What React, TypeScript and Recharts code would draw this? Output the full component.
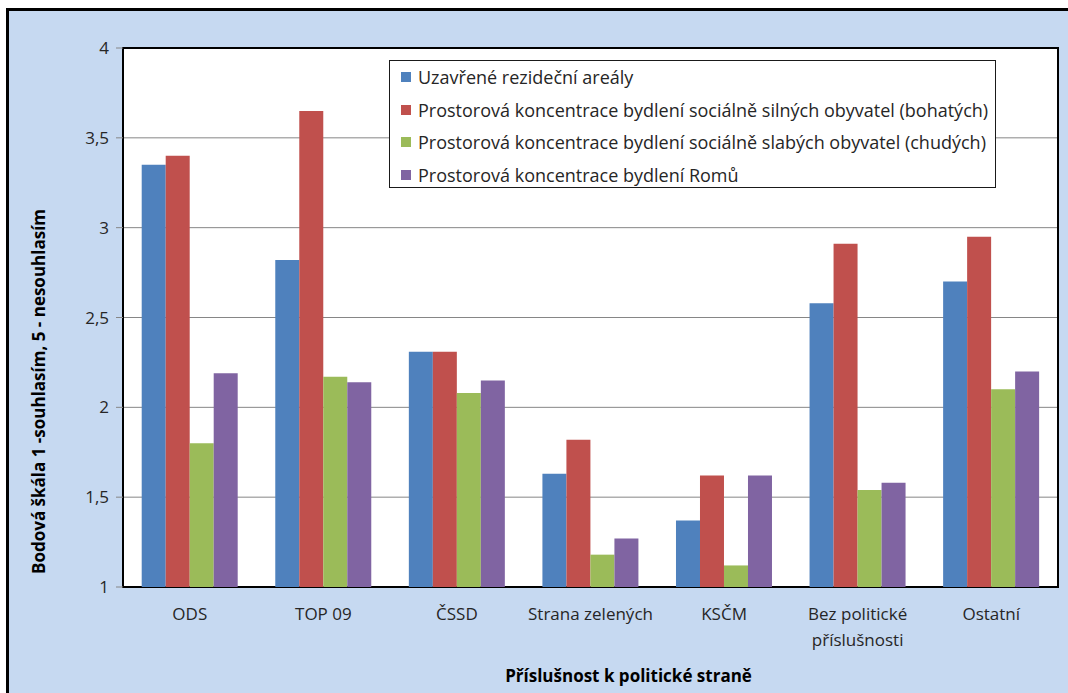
import { BarChart, Bar, XAxis, YAxis, CartesianGrid, Legend, ReferenceArea, Label } from "recharts";

const parties = ["ODS", "TOP 09", "ČSSD", "Strana zelených", "KSČM", "Bez politické\npříslušnosti", "Ostatní"];
const gated = [3.35, 2.82, 2.31, 1.63, 1.37, 2.58, 2.7];
const rich = [3.4, 3.65, 2.31, 1.82, 1.62, 2.91, 2.95];
const poor = [1.8, 2.17, 2.08, 1.18, 1.12, 1.54, 2.1];
const roma = [2.19, 2.14, 2.15, 1.27, 1.62, 1.58, 2.2];
const yTicks = [1, 1.5, 2, 2.5, 3, 3.5, 4];
const edgeTicks = [0, 1, 2, 3, 4, 5, 6, 7];

const seriesNames = [
  "Uzavřené rezideční areály",
  "Prostorová koncentrace bydlení sociálně silných obyvatel (bohatých)",
  "Prostorová koncentrace bydlení sociálně slabých obyvatel (chudých)",
  "Prostorová koncentrace bydlení Romů",
];

const data = parties.map((party, i) => ({
  party,
  gated: gated[i],
  rich: rich[i],
  poor: poor[i],
  roma: roma[i],
}));

const FONT = "'Open Sans', sans-serif";
const TEXT = "#262626";

function fmtTick(v: number): string {
  return String(v).replace(".", ",");
}

// eslint-disable-next-line @typescript-eslint/no-explicit-any
function PartyTick({ x, y, payload }: any) {
  const lines = String(payload.value).split("\n");
  return (
    <text x={x} y={y} textAnchor="middle" fontFamily={FONT} fontSize={17} fill={TEXT}>
      {lines.map((l, i) => (
        <tspan key={i} x={x} dy={i === 0 ? 33 : 26}>
          {l}
        </tspan>
      ))}
    </text>
  );
}

// eslint-disable-next-line @typescript-eslint/no-explicit-any
function LegendBox({ payload }: any) {
  // keep the series order, recharts sorts the payload by name
  const items = [...(payload || [])].sort(
    (a: any, b: any) => seriesNames.indexOf(a.value) - seriesNames.indexOf(b.value)
  );
  return (
    <div
      style={{
        background: "#fff",
        border: "1px solid #1a1a1a",
        width: 607,
        height: 128,
        boxSizing: "border-box",
        fontFamily: FONT,
        fontSize: 18,
        color: TEXT,
      }}
    >
      {items.map((p: any, i: number) => (
        <div key={i} style={{ height: 32.5, display: "flex", alignItems: "center", paddingLeft: 11 }}>
          <span style={{ width: 10, height: 10, background: p.color, marginRight: 7, display: "inline-block", flex: "none" }} />
          <span style={{ whiteSpace: "nowrap" }}>{p.value}</span>
        </div>
      ))}
    </div>
  );
}

export default function App() {
  return (
    <div style={{ position: "absolute", left: 0, top: 0, width: 1068, height: 693, background: "#fff", overflow: "hidden" }}>
      <div
        style={{
          position: "absolute",
          left: 6,
          top: 8,
          right: 0,
          bottom: 0,
          background: "#C6D9F1",
          borderLeft: "3px solid #000",
          borderTop: "3px solid #000",
        }}
      />
      <div style={{ position: "absolute", left: 0, top: 0 }}>
        <BarChart
          width={1068}
          height={693}
          data={data}
          margin={{ top: 48, right: 10, bottom: 46, left: 0 }}
          barCategoryGap="14%"
          barGap={0}
        >
          <CartesianGrid horizontal vertical={false} stroke="#868686" fill="#fff" fillOpacity={1} />
          <XAxis
            xAxisId="edges"
            type="number"
            domain={[0, 7]}
            ticks={edgeTicks}
            tick={false}
            tickSize={6}
            tickLine={{ stroke: "#868686" }}
            axisLine={{ stroke: "#000", strokeWidth: 2 }}
            height={0}
          />
          <XAxis
            dataKey="party"
            interval={0}
            tick={<PartyTick />}
            tickLine={false}
            tickSize={0}
            tickMargin={0}
            axisLine={false}
            height={60}
          >
            <Label
              content={(props: any) => {
                const vb = props.viewBox;
                return (
                  <text
                    x={vb.x + vb.width / 2 + 38}
                    y={vb.y + 95}
                    textAnchor="middle"
                    fontFamily={FONT}
                    fontSize={17}
                    fontWeight="bold"
                    fill="#000"
                  >
                    Příslušnost k politické straně
                  </text>
                );
              }}
            />
          </XAxis>
          <YAxis
            domain={[1, 4]}
            ticks={yTicks}
            tickFormatter={fmtTick}
            width={123}
            tickSize={7}
            tickMargin={7}
            tick={{ fontFamily: FONT, fontSize: 17, fill: TEXT }}
            tickLine={{ stroke: "#868686" }}
            axisLine={{ stroke: "#000", strokeWidth: 2 }}
          >
            <Label
              content={(props: any) => {
                const vb = props.viewBox;
                const cx = 45;
                const cy = vb.y + vb.height / 2 + 74;
                return (
                  <text
                    x={cx}
                    y={cy}
                    transform={`rotate(-90 ${cx} ${cy})`}
                    textAnchor="middle"
                    fontFamily={FONT}
                    fontSize={17}
                    fontWeight="bold"
                    fill="#000"
                  >
                    Bodová škála 1 -souhlasím, 5 - nesouhlasím
                  </text>
                );
              }}
            />
          </YAxis>
          <ReferenceArea y1={1} y2={4} fill="none" stroke="#000" strokeWidth={2} ifOverflow="visible" />
          <Legend
            layout="vertical"
            align="center"
            verticalAlign="middle"
            content={<LegendBox />}
            wrapperStyle={{ left: 389, top: 60, width: 607, height: 128 }}
          />
          <Bar dataKey="gated" name={seriesNames[0]} fill="#4F81BD" isAnimationActive={false} />
          <Bar dataKey="rich" name={seriesNames[1]} fill="#C0504D" isAnimationActive={false} />
          <Bar dataKey="poor" name={seriesNames[2]} fill="#9BBB59" isAnimationActive={false} />
          <Bar dataKey="roma" name={seriesNames[3]} fill="#8064A2" isAnimationActive={false} />
        </BarChart>
      </div>
    </div>
  );
}
